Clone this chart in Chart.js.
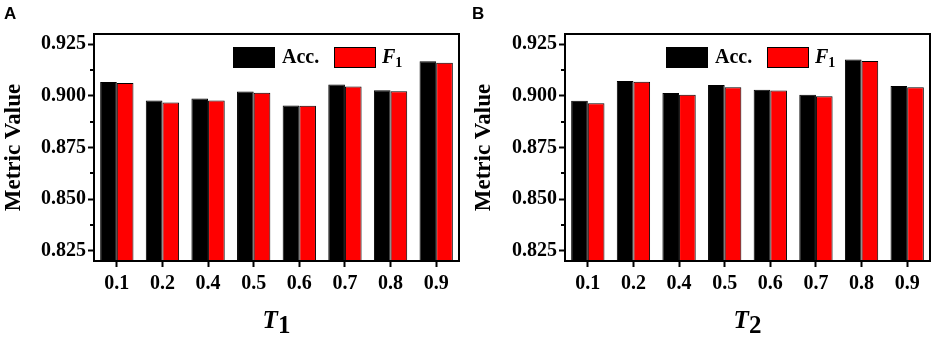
<!DOCTYPE html>
<html>
<head>
<meta charset="utf-8">
<script src="https://cdn.jsdelivr.net/npm/chart.js@4/dist/chart.umd.min.js"></script>
<style>
  html, body { margin: 0; padding: 0; background: #fff; }
  #wrap { position: relative; width: 935px; height: 337px; overflow: hidden; background: #fff; }
  canvas { position: absolute; top: 0; }
  .lab { position: absolute; font-family: "Liberation Sans", Arial, sans-serif; font-weight: bold; font-size: 17px; line-height: 1; color: #000; }
</style>
</head>
<body>
<div id="wrap">
  <canvas id="cA" width="467" height="337" style="left:0px;width:467px;height:337px;"></canvas>
  <canvas id="cB" width="465" height="337" style="left:470px;width:465px;height:337px;"></canvas>
  <div class="lab" style="left:4px;top:5px;">A</div>
  <div class="lab" style="left:472px;top:5px;">B</div>
</div>
<script>
// ---- data ----
const categories = ['0.1', '0.2', '0.4', '0.5', '0.6', '0.7', '0.8', '0.9'];
const accA = [0.9068, 0.8978, 0.8988, 0.9021, 0.8954, 0.9055, 0.9028, 0.9168];
const f1A  = [0.9063, 0.8968, 0.8978, 0.9015, 0.8952, 0.9045, 0.9023, 0.9161];
const accB = [0.8976, 0.9072, 0.9014, 0.9053, 0.9030, 0.9006, 0.9176, 0.9048];
const f1B  = [0.8965, 0.9069, 0.9006, 0.9042, 0.9026, 0.8998, 0.9169, 0.9042];
const majorTicks = [0.825, 0.850, 0.875, 0.900, 0.925];
const minorTicks = [0.8375, 0.8625, 0.8875, 0.9125];
const yMin = 0.82, yMax = 0.93;
const seriesNames = ['Acc.', 'F'];

const SERIF = '"Liberation Serif", "Times New Roman", serif';

const framePlugin = {
  id: 'frame',
  afterDatasetsDraw(chart, args, opts) {
    const ctx = chart.ctx, a = chart.chartArea;
    ctx.save();
    ctx.strokeStyle = '#000';
    ctx.lineWidth = 2;
    ctx.strokeRect(a.left, a.top, a.right - a.left, a.bottom - a.top);
    // minor y ticks
    const ys = chart.scales.y;
    minorTicks.forEach(v => {
      const p = Math.round(ys.getPixelForValue(v));
      ctx.beginPath();
      ctx.moveTo(a.left - 4, p);
      ctx.lineTo(a.left, p);
      ctx.stroke();
    });
    // legend
    const bx = a.left + opts.legendX, by = a.top + 13, bw = 42, bh = 21;
    ctx.lineWidth = 1;
    ctx.fillStyle = '#000';
    ctx.fillRect(bx, by, bw, bh);
    ctx.strokeRect(bx + 0.5, by + 0.5, bw - 1, bh - 1);
    ctx.font = 'bold 20px ' + SERIF;
    ctx.textBaseline = 'alphabetic';
    ctx.textAlign = 'left';
    ctx.fillText(seriesNames[0], bx + bw + 7, by + 16);
    const rx = bx + 101;
    ctx.fillStyle = '#ff0000';
    ctx.fillRect(rx, by, bw, bh);
    ctx.strokeStyle = '#000';
    ctx.strokeRect(rx + 0.5, by + 0.5, bw - 1, bh - 1);
    ctx.fillStyle = '#000';
    ctx.font = 'italic bold 20px ' + SERIF;
    const fx = rx + bw + 6;
    ctx.fillText(seriesNames[1], fx, by + 16);
    const fw = ctx.measureText(seriesNames[1]).width;
    ctx.font = 'bold 14px ' + SERIF;
    ctx.fillText('1', fx + fw, by + 20);
    // x title
    ctx.font = 'italic bold 25px ' + SERIF;
    const tw = ctx.measureText('T').width;
    ctx.font = 'bold 25px ' + SERIF;
    const sw = ctx.measureText(opts.sub).width;
    const cx = (a.left + a.right) / 2 - (tw + sw) / 2;
    ctx.font = 'italic bold 25px ' + SERIF;
    ctx.fillText('T', cx, a.bottom + 67);
    ctx.font = 'bold 25px ' + SERIF;
    ctx.fillText(opts.sub, cx + tw, a.bottom + 72);
    ctx.restore();
  }
};

function makeChart(id, acc, f1, sub, legendX, yAxisWidth, rightPad) {
  return new Chart(document.getElementById(id), {
    type: 'bar',
    data: {
      labels: categories,
      datasets: [
        { label: 'Acc.', data: acc, backgroundColor: '#000000', borderColor: '#000000', borderWidth: 1 },
        { label: 'F1', data: f1, backgroundColor: '#ff0000', borderColor: '#000000', borderWidth: 1 }
      ]
    },
    options: {
      responsive: false,
      animation: false,
      devicePixelRatio: 1,
      layout: { padding: { left: 0, right: rightPad, top: 34, bottom: 0 } },
      datasets: { bar: { barPercentage: 1.0, categoryPercentage: 0.73 } },
      plugins: {
        legend: { display: false },
        tooltip: { enabled: false },
        frame: { legendX: legendX, sub: sub }
      },
      scales: {
        x: {
          offset: true,
          grid: { offset: false, drawOnChartArea: false, drawTicks: true, tickLength: 6, tickWidth: 2, tickColor: '#000' },
          border: { display: false },
          ticks: { color: '#000', font: { family: SERIF, weight: 'bold', size: 20 }, padding: 5, maxRotation: 0, autoSkip: false },
          afterFit: (s) => { s.height = 76; }
        },
        y: {
          min: yMin, max: yMax,
          afterBuildTicks: (s) => { s.ticks = majorTicks.map(v => ({ value: v })); },
          grid: { drawOnChartArea: false, drawTicks: true, tickLength: 6, tickWidth: 2, tickColor: '#000' },
          border: { display: false },
          ticks: { color: '#000', font: { family: SERIF, weight: 'bold', size: 20 }, padding: 2,
                   callback: (v) => Number(v).toFixed(3) },
          title: { display: true, text: 'Metric Value', color: '#000', padding: { top: 0, bottom: 0 },
                   font: { family: SERIF, weight: 'bold', size: 23 } },
          afterFit: (s) => { s.width = yAxisWidth; }
        }
      }
    },
    plugins: [framePlugin]
  });
}

makeChart('cA', accA, f1A, '1', 139, 94, 8);
makeChart('cB', accB, f1B, '2', 101, 95, 5);
</script>
</body>
</html>
